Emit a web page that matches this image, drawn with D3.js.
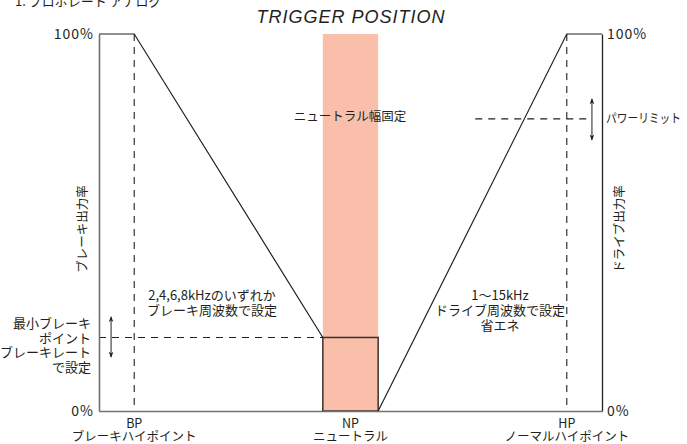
<!DOCTYPE html>
<html><head><meta charset="utf-8">
<script src="https://cdn.jsdelivr.net/npm/d3@7"></script>
<style>
html,body{margin:0;padding:0;background:#fff;}
svg{display:block;}
text{font-family:"Noto Sans CJK JP","Noto Sans",sans-serif;fill:#231f20;}
</style></head>
<body><svg id="c" width="687" height="444"></svg>
<script>
// ---- data (trigger position 0..100, output 0..100 %) ----
const yTicks = [0, 100];
const positions = [
  {key:"BP", x:7,    label:"ブレーキハイポイント"},
  {key:"NP", x:50,   label:"ニュートラル"},
  {key:"HP", x:93,   label:"ノーマルハイポイント"}
];
const brakeCurve = [[0,100],[7,100],[44.5,19.5]];
const driveCurve = [[55.5,0],[93,100],[100,100]];
const neutralBand = [44.5, 55.5];
const minBrakePoint = 19.5;
const powerLimit = 77.5;
const brakeArrow = {x:2.4, y0:25, y1:14.3};
const powerArrow = {x:98, y0:82.8, y1:71.9};
const powerLimitStart = 74.8;
const brakeNote = ["2,4,6,8kHzのいずれか","ブレーキ周波数で設定"];
const driveNote = ["1〜15kHz","ドライブ周波数で設定","省エネ"];
const minBrakeNote = ["最小ブレーキ","ポイント","ブレーキレート","で設定"];

const svg = d3.select("#c");
const x = d3.scaleLinear().domain([0,100]).range([99,602]);
const y = d3.scaleLinear().domain([0,100]).range([411,34]);
const line = d3.line().x(d=>x(d[0])).y(d=>y(d[1]));

// arrow marker
const defs = svg.append("defs");
defs.append("marker").attr("id","ah").attr("viewBox","0 0 10 10").attr("refX",9).attr("refY",5)
  .attr("markerWidth",6).attr("markerHeight",8).attr("orient","auto-start-reverse")
  .append("path").attr("d","M0,1 L10,5 L0,9 L3,5 Z").attr("fill","#231f20");

// title + header
svg.append("text").attr("x",15).attr("y",6).attr("font-size",13).text("1. プロポレート  アナログ");
svg.append("text").attr("x",351).attr("y",23).attr("text-anchor","middle")
  .style("font-family","'Liberation Sans',Arial,sans-serif").style("font-style","italic")
  .attr("font-size",18).attr("letter-spacing",1).text("TRIGGER POSITION");

// neutral band
svg.append("rect").attr("x",x(neutralBand[0])).attr("width",x(neutralBand[1])-x(neutralBand[0]))
  .attr("y",y(100)).attr("height",y(0)-y(100)).attr("fill","#f9bfab");
svg.append("rect").attr("x",x(neutralBand[0])).attr("width",x(neutralBand[1])-x(neutralBand[0]))
  .attr("y",y(minBrakePoint)).attr("height",y(0)-y(minBrakePoint))
  .attr("fill","none").attr("stroke","#3a3030").attr("stroke-width",1.5);

// dashed guides
const dash = "7,6";
[7,93].forEach(v=>{
  svg.append("line").attr("x1",x(v)).attr("x2",x(v)).attr("y1",y(100)).attr("y2",y(0))
    .attr("stroke","#231f20").attr("stroke-width",1.1).attr("stroke-dasharray",dash);
});
svg.append("line").attr("x1",x(0)).attr("x2",x(neutralBand[0])).attr("y1",y(minBrakePoint)).attr("y2",y(minBrakePoint))
  .attr("stroke","#231f20").attr("stroke-width",1.1).attr("stroke-dasharray",dash);
svg.append("line").attr("x1",x(powerLimitStart)).attr("x2",x(powerArrow.x)).attr("y1",y(powerLimit)).attr("y2",y(powerLimit))
  .attr("stroke","#231f20").attr("stroke-width",1.1).attr("stroke-dasharray",dash);

// axes
const left = svg.append("g").attr("transform",`translate(${x(0)},0)`)
  .call(d3.axisLeft(y).tickValues(yTicks).tickSize(0).tickPadding(5).tickFormat(d=>d+"%"));
const right = svg.append("g").attr("transform",`translate(${x(100)},0)`)
  .call(d3.axisRight(y).tickValues(yTicks).tickSize(0).tickPadding(5).tickFormat(d=>d+"%"));
const bottom = svg.append("g").attr("transform",`translate(0,${y(0)})`)
  .call(d3.axisBottom(x).tickValues([]).tickSize(0));
[left,right,bottom].forEach(g=>{
  g.select(".domain").attr("stroke","#707070").attr("stroke-width",1.6);
  g.selectAll("text").attr("font-size",14).attr("letter-spacing",1)
    .style("font-family","'Noto Sans CJK JP',sans-serif").attr("fill","#231f20");
});
right.select(".domain").attr("stroke","#231f20").attr("stroke-width",1.3);

// curves
svg.append("path").attr("d",line(brakeCurve)).attr("fill","none").attr("stroke","#231f20").attr("stroke-width",1.2);
svg.append("path").attr("d",line(driveCurve)).attr("fill","none").attr("stroke","#231f20").attr("stroke-width",1.2);

// arrows
[brakeArrow,powerArrow].forEach(a=>{
  svg.append("line").attr("x1",x(a.x)).attr("x2",x(a.x)).attr("y1",y(a.y0)).attr("y2",y(a.y1))
    .attr("stroke","#231f20").attr("stroke-width",1)
    .attr("marker-start","url(#ah)").attr("marker-end","url(#ah)");
});

// axis titles
svg.append("text").attr("transform",`translate(87,229) rotate(-90)`).attr("text-anchor","middle")
  .attr("font-size",12.5).text("ブレーキ出力率");
svg.append("text").attr("transform",`translate(624,229) rotate(-90)`).attr("text-anchor","middle")
  .attr("font-size",12.5).text("ドライブ出力率");

// annotations
svg.append("text").attr("x",350).attr("y",121).attr("text-anchor","middle").attr("font-size",12.5).text("ニュートラル幅固定");
svg.append("text").attr("x",606).attr("y",y(powerLimit)+4.5).attr("font-size",12.5)
  .attr("textLength",75).attr("lengthAdjust","spacingAndGlyphs").text("パワーリミット");
const multi = (lines,cx,cy,anchor,lh,fs)=>{
  const t = svg.append("text").attr("text-anchor",anchor).attr("font-size",fs||13);
  lines.forEach((s,i)=>t.append("tspan").attr("x",cx).attr("y",cy+i*lh).text(s));
};
multi(brakeNote,212,300,"middle",15);
multi(driveNote,500,300,"middle",15);
multi(minBrakeNote,91,328,"end",14.7);

// bottom position labels
positions.forEach(p=>{
  multi([p.key,p.label],x(p.x),428,"middle",13,12.5);
});
</script></body></html>
